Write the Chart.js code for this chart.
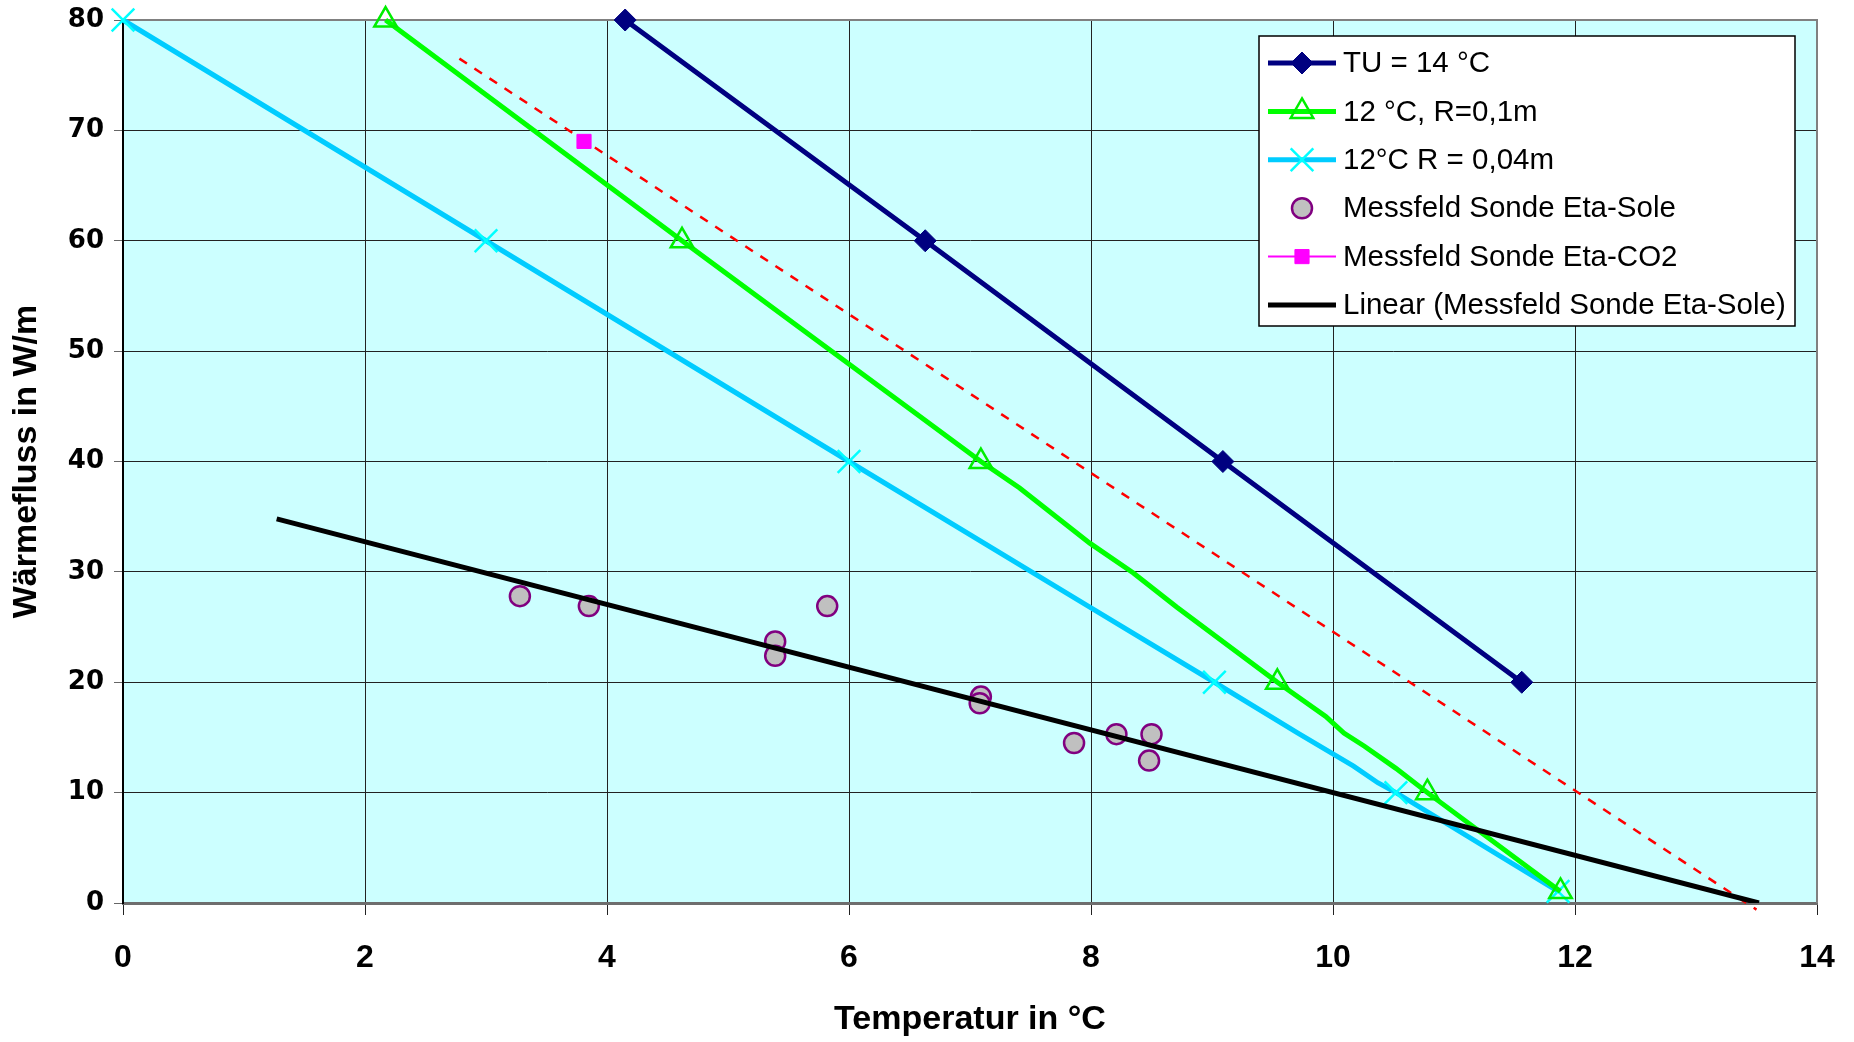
<!DOCTYPE html>
<html>
<head>
<meta charset="utf-8">
<script src="https://cdn.jsdelivr.net/npm/chart.js@4/dist/chart.umd.min.js"></script>
<style>
  html, body { margin: 0; padding: 0; background: #fff; }
</style>
</head>
<body>
<canvas id="chart" width="1854" height="1042"></canvas>
<script>
// Wärmefluss vs. Temperatur

// TU = 14 °C
const tuX = [4.15, 6.63, 9.09, 11.56];
const tuY = [80, 60, 40, 20];

// 12 °C, R=0,1m
const r01X = [2.17, 4.62, 7.09, 7.41, 7.99, 8.35, 8.71, 9.54, 9.94, 10.09, 10.26, 10.52, 10.78, 11.88];
const r01Y = [80, 60, 40, 37.6, 32.6, 29.9, 26.8, 20, 16.9, 15.4, 14.2, 12.2, 10, 1.05];

// 12°C R = 0,04m
const r004X = [0, 3, 6, 7.99, 9.02, 9.71, 10.17, 10.37, 10.52, 11.86];
const r004Y = [80, 60, 40, 26.8, 20, 15.4, 12.4, 10.9, 10, 1.05];

// Messfeld Sonde Eta-Sole
const soleX = [3.28, 3.85, 5.39, 5.39, 5.82, 7.09, 7.08, 7.86, 8.21, 8.50, 8.48];
const soleY = [27.8, 26.9, 23.7, 22.4, 26.9, 18.7, 18.1, 14.5, 15.3, 15.3, 12.9];

// Messfeld Sonde Eta-CO2
const co2X = [3.81];
const co2Y = [69.0];

// dashed red line through the CO2 point
const co2LineX = [2.78, 13.5];
const co2LineY = [76.5, -0.6];

// Linear (Messfeld Sonde Eta-Sole)
const trendX = [1.27, 13.52];
const trendY = [34.8, 0];

// axis ticks
const xTicks = [0, 2, 4, 6, 8, 10, 12, 14];
const yTicks = [0, 10, 20, 30, 40, 50, 60, 70, 80];

const pts = (xs, ys) => xs.map((x, i) => ({ x, y: ys[i] }));

// markers only on the round values and on the last point
const markerAt = (size) => ctx => {
    const d = ctx.dataset.data;
    const p = d[ctx.dataIndex];
    if (!p) return 0;
    return (p.y % 10 === 0 || ctx.dataIndex === d.length - 1) ? size : 0;
};

const boldFont = '"Liberation Sans", Arial, sans-serif';

// plot area background and frame
const plotArea = {
    id: 'plotArea',
    beforeDraw(chart) {
        const { ctx, chartArea: a } = chart;
        ctx.save();
        ctx.fillStyle = '#CCFFFF';
        ctx.fillRect(a.left, a.top, a.right - a.left, a.bottom - a.top);
        ctx.restore();
    },
    beforeDatasetsDraw(chart) {
        const { ctx, chartArea: a } = chart;
        ctx.save();
        ctx.strokeStyle = '#808080';
        ctx.lineWidth = 2;
        ctx.beginPath();
        ctx.moveTo(a.left, a.top);
        ctx.lineTo(a.right, a.top);
        ctx.lineTo(a.right, a.bottom);
        ctx.stroke();
        ctx.restore();
    }
};

// simple marker drawing for the legend box
function drawMarker(ctx, style, x, y, r, fill, stroke, lw) {
    ctx.save();
    ctx.fillStyle = fill;
    ctx.strokeStyle = stroke;
    ctx.lineWidth = lw;
    ctx.beginPath();
    if (style === 'rectRot') {
        ctx.moveTo(x - r, y); ctx.lineTo(x, y - r); ctx.lineTo(x + r, y); ctx.lineTo(x, y + r);
        ctx.closePath(); ctx.fill(); ctx.stroke();
    } else if (style === 'triangle') {
        ctx.moveTo(x, y - r);
        ctx.lineTo(x + r * 0.866, y + r * 0.5);
        ctx.lineTo(x - r * 0.866, y + r * 0.5);
        ctx.closePath(); ctx.stroke();
    } else if (style === 'crossRot') {
        const o = r * Math.SQRT1_2;
        ctx.moveTo(x - o, y - o); ctx.lineTo(x + o, y + o);
        ctx.moveTo(x + o, y - o); ctx.lineTo(x - o, y + o);
        ctx.stroke();
    } else if (style === 'circle') {
        ctx.arc(x, y, r, 0, Math.PI * 2);
        ctx.fill(); ctx.stroke();
    } else if (style === 'rect') {
        const s = r * Math.SQRT1_2;
        ctx.rect(x - s, y - s, 2 * s, 2 * s);
        ctx.fill(); ctx.stroke();
    }
    ctx.restore();
}

const legendBox = {
    id: 'legendBox',
    afterDraw(chart) {
        const { ctx } = chart;
        const entries = chart.data.datasets.filter(d => d.legendRow !== undefined)
            .sort((a, b) => a.legendRow - b.legendRow);
        const box = { x: 1259, y: 36, w: 536, h: 290 };
        ctx.save();
        ctx.fillStyle = '#fff';
        ctx.fillRect(box.x, box.y, box.w, box.h);
        ctx.strokeStyle = '#000';
        ctx.lineWidth = 1.5;
        ctx.strokeRect(box.x, box.y, box.w, box.h);
        entries.forEach((d, i) => {
            const cy = 63 + i * 48.4;
            if (d.legendLine) {
                ctx.strokeStyle = d.borderColor;
                ctx.lineWidth = d.borderWidth;
                ctx.setLineDash([]);
                ctx.beginPath();
                ctx.moveTo(1268, cy);
                ctx.lineTo(1336, cy);
                ctx.stroke();
            }
            if (d.legendMarker) {
                drawMarker(ctx, d.pointStyle, 1302, cy, d.legendMarker,
                    d.pointBackgroundColor, d.pointBorderColor, d.pointBorderWidth);
            }
            ctx.fillStyle = '#000';
            ctx.font = '29.5px "Liberation Sans", Arial, sans-serif';
            ctx.textAlign = 'left';
            ctx.textBaseline = 'middle';
            ctx.fillText(d.label, 1343, cy + 1);
        });
        ctx.restore();
    }
};

new Chart(document.getElementById('chart'), {
    type: 'scatter',
    data: {
        datasets: [
            {
                label: 'Linear (Messfeld Sonde Eta-Sole)',
                data: pts(trendX, trendY),
                showLine: true,
                borderColor: '#000000',
                borderWidth: 5,
                pointRadius: 0,
                legendRow: 5,
                legendLine: true
            },
            {
                label: 'Messfeld Sonde Eta-Sole',
                data: pts(soleX, soleY),
                showLine: false,
                pointStyle: 'circle',
                pointRadius: 10,
                pointBackgroundColor: '#C0C0C0',
                pointBorderColor: '#800080',
                pointBorderWidth: 2.5,
                legendRow: 3,
                legendMarker: 10
            },
            {
                label: 'Messfeld Sonde Eta-CO2',
                data: pts(co2X, co2Y),
                showLine: false,
                borderColor: '#FF00FF',
                borderWidth: 2,
                pointStyle: 'rect',
                pointRadius: 10,
                pointBackgroundColor: '#FF00FF',
                pointBorderColor: '#FF00FF',
                pointBorderWidth: 1,
                legendRow: 4,
                legendLine: true,
                legendMarker: 10
            },
            {
                label: 'CO2 Linie',
                data: pts(co2LineX, co2LineY),
                showLine: true,
                borderColor: '#FF0000',
                borderWidth: 2.5,
                borderDash: [9, 9],
                pointRadius: 0,
                clip: false
            },
            {
                label: 'TU = 14 °C',
                data: pts(tuX, tuY),
                showLine: true,
                borderColor: '#000080',
                borderWidth: 5,
                pointStyle: 'rectRot',
                pointRadius: 11,
                pointBackgroundColor: '#000080',
                pointBorderColor: '#000080',
                pointBorderWidth: 1,
                clip: false,
                legendRow: 0,
                legendLine: true,
                legendMarker: 11
            },
            {
                label: '12 °C, R=0,1m',
                data: pts(r01X, r01Y),
                showLine: true,
                borderColor: '#00FF00',
                borderWidth: 5,
                pointStyle: 'triangle',
                pointRadius: markerAt(13),
                pointBackgroundColor: 'rgba(0,0,0,0)',
                pointBorderColor: '#00EE00',
                pointBorderWidth: 2.5,
                clip: false,
                legendRow: 1,
                legendLine: true,
                legendMarker: 13
            },
            {
                label: '12°C R = 0,04m',
                data: pts(r004X, r004Y),
                showLine: true,
                borderColor: '#00CCFF',
                borderWidth: 5,
                pointStyle: 'crossRot',
                pointRadius: markerAt(16),
                pointBackgroundColor: '#00FFFF',
                pointBorderColor: '#00FFFF',
                pointBorderWidth: 2.5,
                clip: false,
                legendRow: 2,
                legendLine: true,
                legendMarker: 16
            }
        ]
    },
    options: {
        responsive: false,
        animation: false,
        events: [],
        layout: { padding: { left: 0, right: 37, top: 20, bottom: 0 } },
        plugins: {
            legend: { display: false },
            tooltip: { enabled: false }
        },
        scales: {
            x: {
                type: 'linear',
                min: 0,
                max: 14,
                afterBuildTicks: s => { s.ticks = xTicks.map(v => ({ value: v })); },
                afterFit: s => { s.height = 139; s.paddingLeft = 0; s.paddingRight = 0; },
                grid: { color: '#222', lineWidth: 1, tickLength: 12, tickColor: '#222' },
                border: { color: '#6e6e6e', width: 3 },
                ticks: {
                    color: '#000',
                    padding: 24,
                    font: { family: boldFont, weight: 'bold', size: 32 }
                },
                title: {
                    display: true,
                    text: 'Temperatur in °C',
                    color: '#000',
                    padding: { top: 0, bottom: 2 },
                    font: { family: boldFont, weight: 'bold', size: 34 }
                }
            },
            y: {
                type: 'linear',
                min: 0,
                max: 80,
                afterBuildTicks: s => { s.ticks = yTicks.map(v => ({ value: v })); },
                afterFit: s => { s.width = 123; s.paddingTop = 0; s.paddingBottom = 0; },
                grid: { color: '#222', lineWidth: 1, tickLength: 9, tickColor: '#666' },
                border: { color: '#000', width: 2 },
                ticks: {
                    color: '#000',
                    padding: 10,
                    font: { family: '"DejaVu Sans", sans-serif', weight: 'bold', size: 26 }
                },
                title: {
                    display: true,
                    text: 'Wärmefluss in W/m',
                    color: '#000',
                    padding: { top: 6, bottom: 0 },
                    font: { family: boldFont, weight: 'bold', size: 34 }
                }
            }
        }
    },
    plugins: [plotArea, legendBox]
});
</script>
</body>
</html>
